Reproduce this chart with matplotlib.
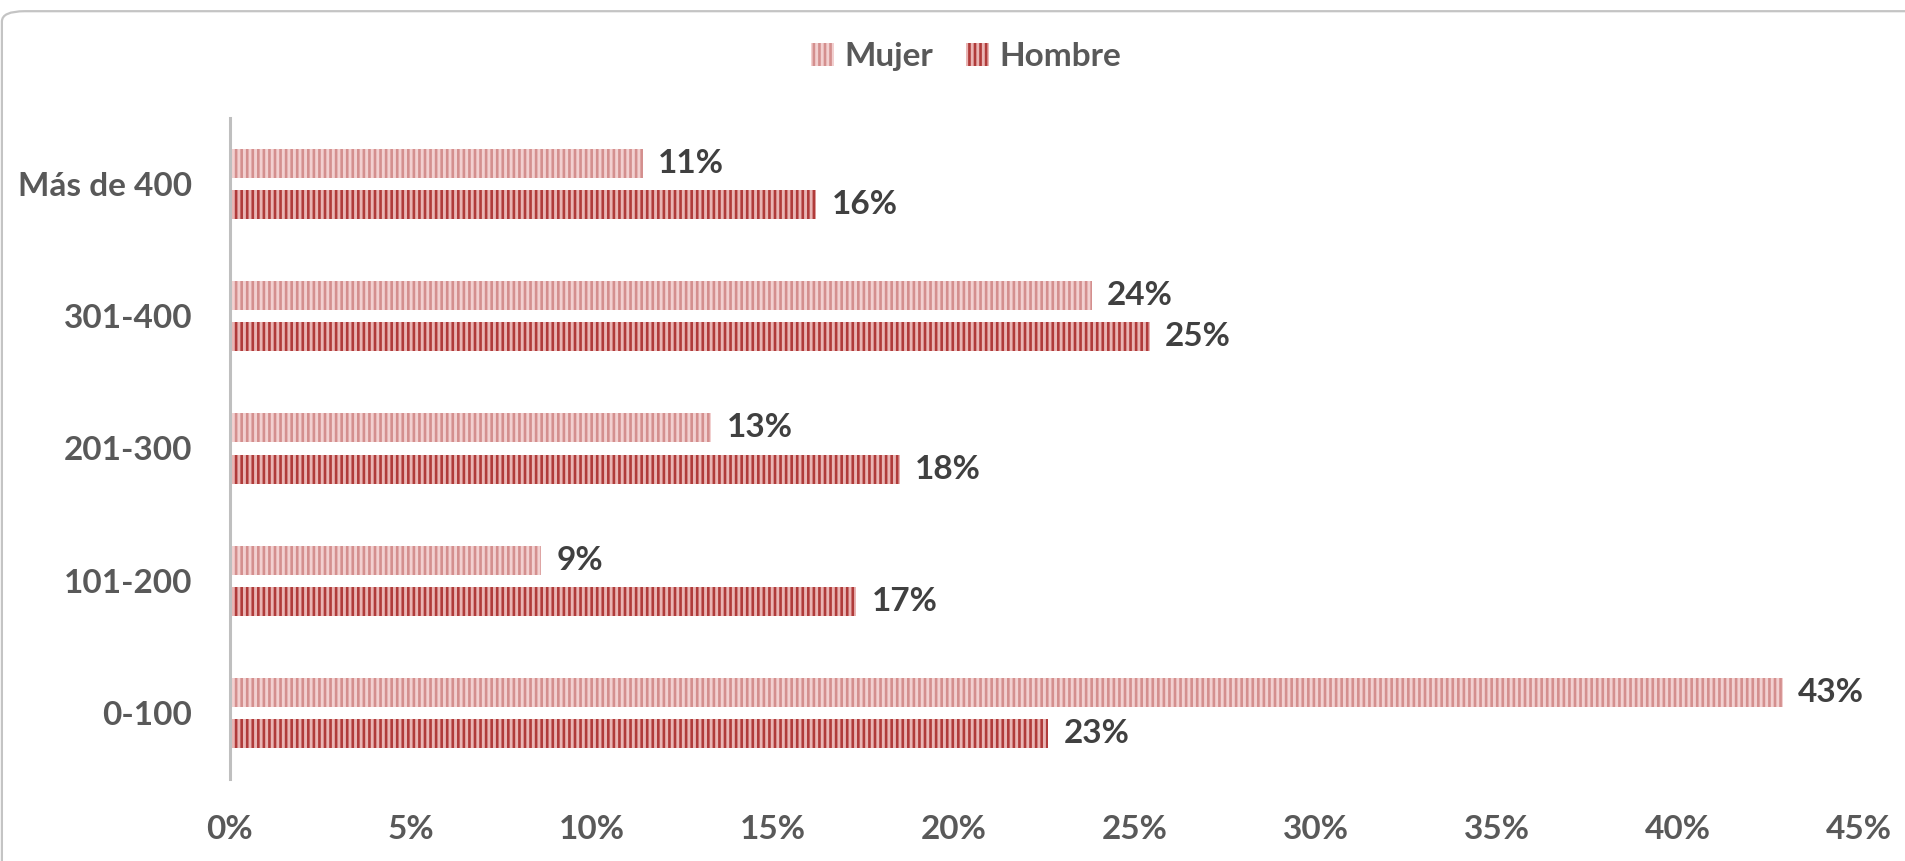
import numpy as np
import matplotlib.pyplot as plt
from matplotlib.patches import FancyBboxPatch

plt.rcParams['font.family'] = ['Lato', 'DejaVu Sans']
plt.rcParams['font.weight'] = 'bold'
plt.rcParams['hatch.linewidth'] = 1.9

# data (bottom to top)
categories = ["0-100", "101-200", "201-300", "301-400", "Más de 400"]
mujer = [42.9, 8.6, 13.3, 23.8, 11.4]
hombre = [22.6, 17.3, 18.5, 25.4, 16.2]
xticks = [0, 5, 10, 15, 20, 25, 30, 35, 40, 45]

# styles
mujer_face, mujer_line = "#f2d0d0", "#d48f8e"
hombre_face, hombre_line = "#e9b5b4", "#b03b3a"
tick_col = "#595959"
label_col = "#404040"

fig = plt.figure(figsize=(19.05, 8.61), dpi=100)
ax = fig.add_axes([0.1207, 0.0952, 0.8552, 0.7678])

# rounded chart border
border = FancyBboxPatch((0.001, -0.05), 1.05, 1.037,
                        boxstyle="round,pad=0,rounding_size=0.012",
                        transform=fig.transFigure, facecolor="none",
                        edgecolor="#c4c4c4", linewidth=1.6, zorder=-1)
fig.patches.append(border)

y = np.arange(len(categories))
h = 0.22
off = 0.156

b1 = ax.barh(y + off, mujer, height=h, color=mujer_face, edgecolor=mujer_line,
             hatch="|||", linewidth=0, label="Mujer")
b2 = ax.barh(y - off, hombre, height=h, color=hombre_face, edgecolor=hombre_line,
             hatch="|||", linewidth=0, label="Hombre")

for bars in (b1, b2):
    ax.bar_label(bars, labels=[f"{round(v)}%" for v in bars.datavalues],
                 padding=11, fontsize=24, color=label_col, fontweight="bold")

ax.set_xlim(0, 45)
ax.set_ylim(-0.5, 4.5)
ax.set_xticks(xticks)
ax.set_xticklabels([f"{v}%" for v in xticks])
ax.set_yticks(y)
ax.set_yticklabels(categories)
ax.tick_params(axis="x", length=0, pad=26, labelsize=24, labelcolor=tick_col)
ax.tick_params(axis="y", length=0, pad=27, labelsize=24, labelcolor=tick_col)

for s in ["top", "right", "bottom"]:
    ax.spines[s].set_visible(False)
ax.spines["left"].set_color("#bfbfbf")
ax.spines["left"].set_linewidth(2.2)

fig.legend(handles=[b1, b2], loc="center", bbox_to_anchor=(0.507, 0.934),
           ncol=2, frameon=False, fontsize=24, labelcolor=tick_col,
           handlelength=0.7, handleheight=0.7, handletextpad=0.3,
           columnspacing=1.0)

fig.savefig("out.png", dpi=100)
